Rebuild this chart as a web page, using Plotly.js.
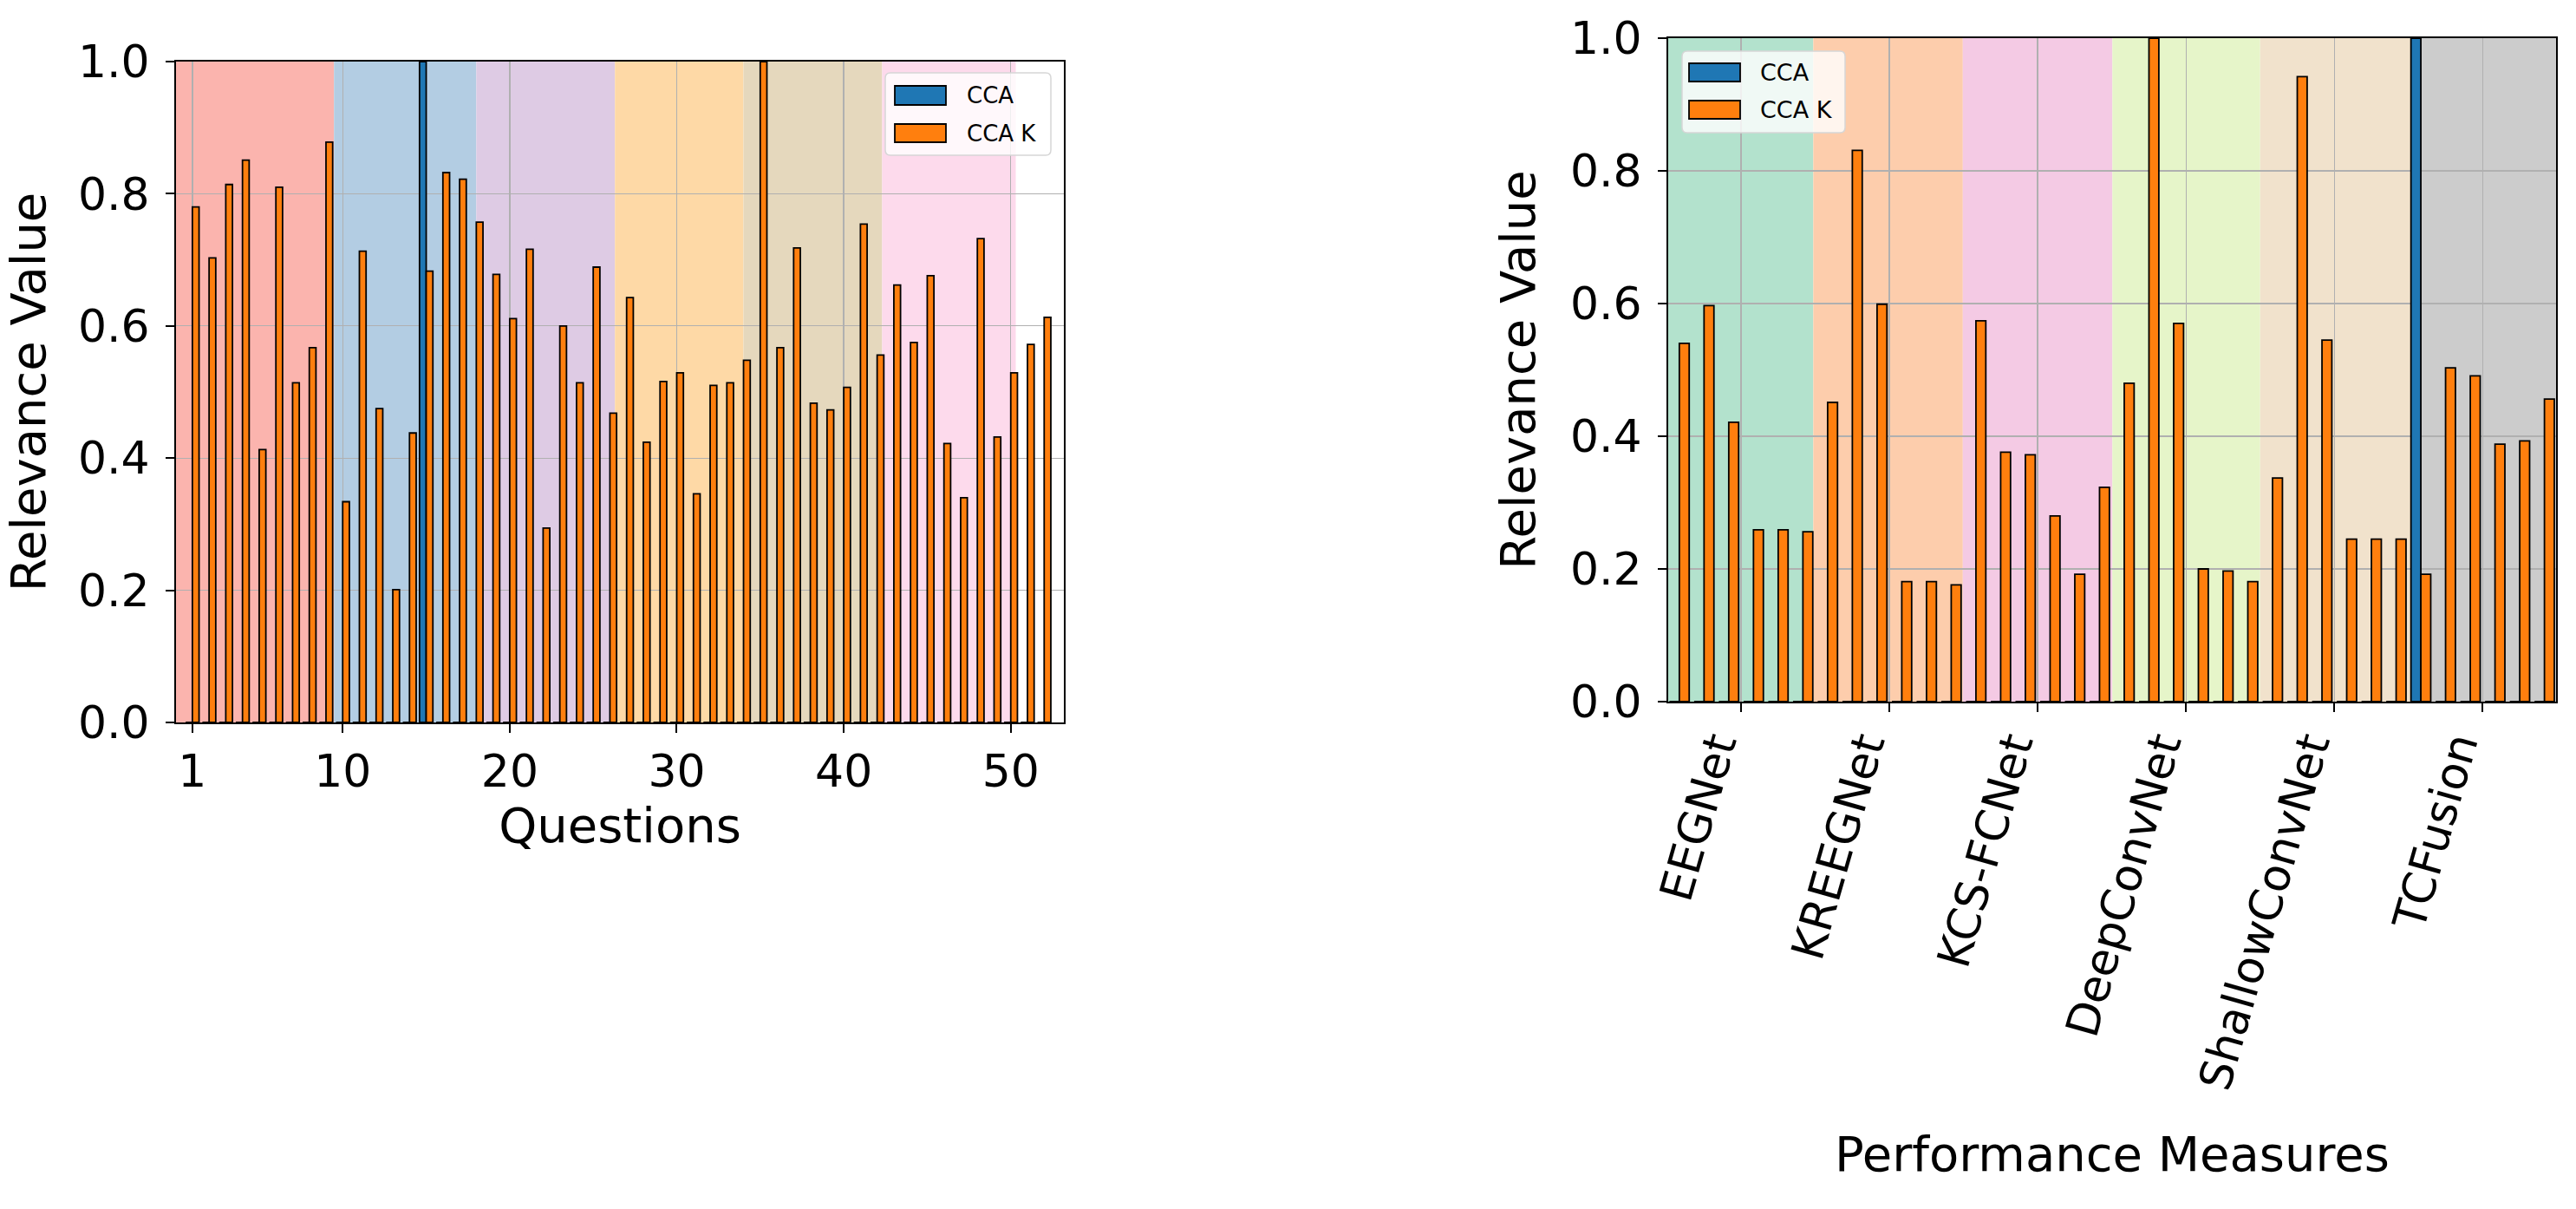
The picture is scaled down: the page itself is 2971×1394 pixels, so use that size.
<!DOCTYPE html>
<html>
<head>
<meta charset="utf-8">
<script src="https://cdn.plot.ly/plotly-3.0.1.min.js"></script>
<style>
  html, body { margin: 0; padding: 0; background: #fff; }
  #chart { width: 2971px; height: 1394px; }
</style>
</head>
<body>
<div id="chart"></div>
<script>
// left panel: relevance per question
const questions = [1, 2, 3, 4, 5, 6, 7, 8, 9, 10, 11, 12, 13, 14, 15, 16, 17, 18, 19, 20, 21, 22, 23, 24, 25, 26,
  27, 28, 29, 30, 31, 32, 33, 34, 35, 36, 37, 38, 39, 40, 41, 42, 43, 44, 45, 46, 47, 48, 49, 50, 51, 52];
const questionCca = [0, 0, 0, 0, 0, 0, 0, 0, 0, 0, 0, 0, 0, 0, 1.0, 0, 0, 0, 0, 0, 0, 0, 0, 0, 0, 0,
  0, 0, 0, 0, 0, 0, 0, 0, 0, 0, 0, 0, 0, 0, 0, 0, 0, 0, 0, 0, 0, 0, 0, 0, 0, 0];
const questionCcaK = [0.780, 0.703, 0.814, 0.851, 0.413, 0.810, 0.514, 0.567, 0.878, 0.334, 0.713, 0.475, 0.201,
  0.438, 0.683, 0.832, 0.822, 0.757, 0.678, 0.611, 0.716, 0.294, 0.600, 0.514, 0.689, 0.468,
  0.643, 0.424, 0.516, 0.529, 0.346, 0.510, 0.514, 0.548, 1.0, 0.567, 0.718, 0.483, 0.473,
  0.507, 0.754, 0.556, 0.662, 0.575, 0.676, 0.422, 0.340, 0.732, 0.432, 0.529, 0.572, 0.613];
const questionTicks = [1, 10, 20, 30, 40, 50];
const questionBandEdges = [0.02, 9.48, 18.0, 26.3, 34.0, 42.3, 50.3];
const questionBandColors = ["#fbb4ae", "#b3cde3", "#decbe4", "#fed9a6", "#e5d8bd", "#fddaec"];

// right panel: relevance per performance measure, six per model
const measures = [0, 1, 2, 3, 4, 5, 6, 7, 8, 9, 10, 11, 12, 13, 14, 15, 16, 17,
  18, 19, 20, 21, 22, 23, 24, 25, 26, 27, 28, 29, 30, 31, 32, 33, 34, 35];
const measureCca = [0, 0, 0, 0, 0, 0, 0, 0, 0, 0, 0, 0, 0, 0, 0, 0, 0, 0,
  0, 0, 0, 0, 0, 0, 0, 0, 0, 0, 0, 0, 1.0, 0, 0, 0, 0, 0];
const measureCcaK = [0.540, 0.597, 0.421, 0.259, 0.259, 0.256,
  0.451, 0.831, 0.599, 0.181, 0.181, 0.176,
  0.574, 0.376, 0.372, 0.280, 0.192, 0.323,
  0.480, 1.0, 0.570, 0.200, 0.197, 0.181,
  0.337, 0.942, 0.545, 0.245, 0.245, 0.245,
  0.192, 0.503, 0.491, 0.388, 0.393, 0.456];
const models = ["EEGNet", "KREEGNet", "KCS-FCNet", "DeepConvNet", "ShallowConvNet", "TCFusion"];
const modelTicks = [2.5, 8.5, 14.5, 20.5, 26.5, 32.5];
const modelBandEdges = [-0.45, 5.42, 11.47, 17.52, 23.5, 29.6, 35.47];
const modelBandColors = ["#b3e2cd", "#fdcdac", "#f4cae4", "#e6f5c9", "#f1e2cc", "#cccccc"];

const yTicks = [0, 0.2, 0.4, 0.6, 0.8, 1.0];

const W = 2971, H = 1394;
const CCA_COLOR = "#1f77b4";
const CCAK_COLOR = "#ff7f0e";
const FONT = "DejaVu Sans, Verdana, sans-serif";

// pixel -> paper helpers, used only for the hand-drawn legends
const px = (x) => x / W;
const py = (y) => 1 - y / H;

function barTrace(x, y, name, color, xa, ya) {
  return {
    type: "bar", x, y, name,
    xaxis: xa, yaxis: ya,
    marker: { color, line: { color: "#000", width: 1.8 } },
    showlegend: false,
    hoverinfo: "x+y+name",
  };
}

function bands(edges, colors, xref) {
  return colors.map((c, i) => ({
    type: "rect", xref, yref: xref.replace("x", "y") + " domain",
    x0: edges[i], x1: edges[i + 1], y0: 0, y1: 1,
    fillcolor: c, line: { width: 0 }, layer: "below",
  }));
}

function roundBox(x0, y0, x1, y1, r) {
  const rx = r / W, ry = r / H;
  const a = px(x0), b = px(x1), t = py(y0), btm = py(y1);
  return `M${a + rx},${t} L${b - rx},${t} Q${b},${t} ${b},${t - ry} L${b},${btm + ry} Q${b},${btm} ${b - rx},${btm} ` +
    `L${a + rx},${btm} Q${a},${btm} ${a},${btm + ry} L${a},${t - ry} Q${a},${t} ${a + rx},${t} Z`;
}

// legend drawn by hand so the swatches keep matplotlib's wide shape
function legend(box, swX, rows, textX, fontSize) {
  const shapes = [{
    type: "path", xref: "paper", yref: "paper",
    path: roundBox(box[0], box[1], box[2], box[3], 6),
    fillcolor: "rgba(255,255,255,0.8)", line: { color: "#d6d6d6", width: 1.5 }, layer: "above",
  }];
  const annotations = [];
  rows.forEach((r) => {
    shapes.push({
      type: "rect", xref: "paper", yref: "paper",
      x0: px(swX[0]), x1: px(swX[1]), y0: py(r.y0), y1: py(r.y1),
      fillcolor: r.color, line: { color: "#000", width: 1.8 }, layer: "above",
    });
    annotations.push({
      xref: "paper", yref: "paper", x: px(textX), y: py((r.y0 + r.y1) / 2),
      xanchor: "left", yanchor: "middle", showarrow: false,
      text: r.label, font: { family: FONT, size: fontSize, color: "#000" },
    });
  });
  return { shapes, annotations };
}

const legLeft = legend([1021, 84, 1212, 179], [1032, 1091], [
  { y0: 99, y1: 121, color: CCA_COLOR, label: "CCA" },
  { y0: 143, y1: 164, color: CCAK_COLOR, label: "CCA K" },
], 1113, 26);
const legRight = legend([1940, 59, 2128, 153], [1948, 2007], [
  { y0: 73, y1: 94, color: CCA_COLOR, label: "CCA" },
  { y0: 116, y1: 137, color: CCAK_COLOR, label: "CCA K" },
], 2028, 27);

const axisCommon = {
  showline: true, linecolor: "#000", linewidth: 2, mirror: true,
  ticks: "outside", ticklen: 10, tickwidth: 2, tickcolor: "#000",
  showgrid: true, gridcolor: "#b0b0b0", gridwidth: 1.4, zeroline: false,
  tickfont: { family: FONT, size: 52, color: "#000" },
  automargin: false, fixedrange: true,
};

const data = [
  barTrace(questions, questionCca, "CCA", CCA_COLOR, "x", "y"),
  barTrace(questions, questionCcaK, "CCA K", CCAK_COLOR, "x", "y"),
  barTrace(measures, measureCca, "CCA", CCA_COLOR, "x2", "y2"),
  barTrace(measures, measureCcaK, "CCA K", CCAK_COLOR, "x2", "y2"),
];

const layout = {
  width: W, height: H,
  margin: { l: 0, r: 0, t: 0, b: 0, pad: 0 },
  paper_bgcolor: "#fff", plot_bgcolor: "#fff",
  font: { family: FONT, color: "#000" },
  barmode: "group", bargap: 0.2, bargroupgap: 0,
  showlegend: false,
  xaxis: {
    ...axisCommon, domain: [px(203), px(1227)], anchor: "y",
    range: [questionBandEdges[0], 53.18], tickvals: questionTicks,
    title: { text: "Questions", font: { family: FONT, size: 56 }, standoff: 10 },
  },
  yaxis: {
    ...axisCommon, domain: [py(833), py(71)], anchor: "x",
    range: [0, 1], tickvals: yTicks, tickformat: ".1f", ticklabelstandoff: 8,
    title: { text: "Relevance Value", font: { family: FONT, size: 56 }, standoff: 22 },
  },
  xaxis2: {
    ...axisCommon, domain: [px(1924), px(2948)], anchor: "y2",
    range: [modelBandEdges[0], modelBandEdges[modelBandEdges.length - 1]],
    tickvals: modelTicks, ticktext: models, tickangle: -74,
    ticklabelshift: -30, ticklabelstandoff: -12,
    title: { text: "Performance Measures", font: { family: FONT, size: 56 }, standoff: 48 },
  },
  yaxis2: {
    ...axisCommon, domain: [py(809), py(44)], anchor: "x2",
    range: [0, 1], tickvals: yTicks, tickformat: ".1f", ticklabelstandoff: 8,
    title: { text: "Relevance Value", font: { family: FONT, size: 56 }, standoff: 22 },
  },
  shapes: [
    ...bands(questionBandEdges, questionBandColors, "x"),
    ...bands(modelBandEdges, modelBandColors, "x2"),
    ...legLeft.shapes, ...legRight.shapes,
  ],
  annotations: [...legLeft.annotations, ...legRight.annotations],
};

Plotly.newPlot("chart", data, layout, { displayModeBar: false, staticPlot: true });
</script>
</body>
</html>
